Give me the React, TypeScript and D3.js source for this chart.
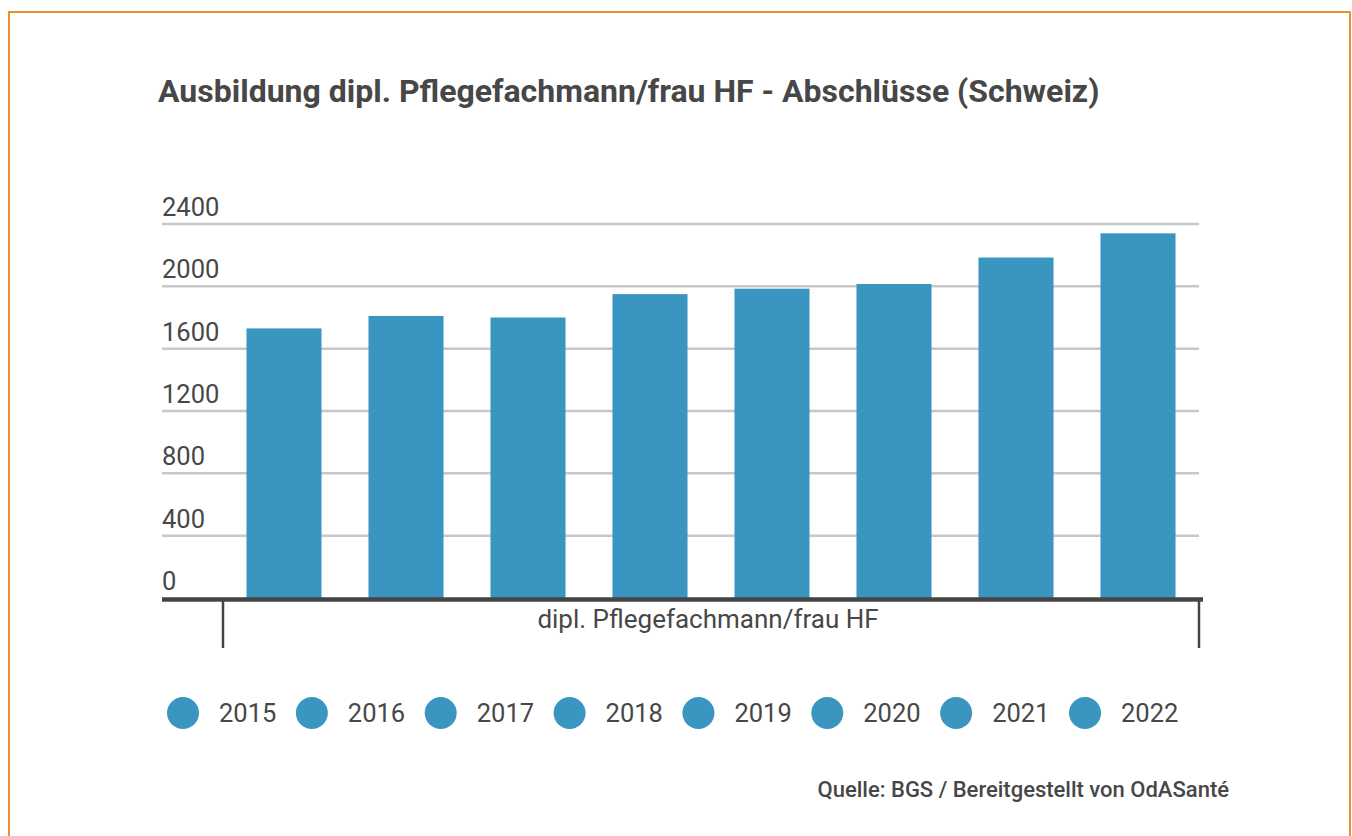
import React, { useEffect, useRef } from 'react';
import * as d3 from 'd3';

// Abschlüsse per year
const YEARS = ['2015', '2016', '2017', '2018', '2019', '2020', '2021', '2022'];
const VALUES = [1730, 1810, 1800, 1950, 1985, 2015, 2185, 2340];
const Y_TICKS = [0, 400, 800, 1200, 1600, 2000, 2400];
const CATEGORY = 'dipl. Pflegefachmann/frau HF';
const TITLE = 'Ausbildung dipl. Pflegefachmann/frau HF - Abschlüsse (Schweiz)';
const SOURCE = 'Quelle: BGS / Bereitgestellt von OdASanté';

const COLORS = {
  bar: '#3a96c0',
  text: '#474747',
  grid: '#c8c8c8',
  axis: '#444444',
  frame: '#e8912f',
};

const W = 1352;
const H = 836;

const App: React.FC = () => {
  const svgRef = useRef<SVGSVGElement>(null);

  useEffect(() => {
    if (!svgRef.current) return;
    const svg = d3.select(svgRef.current);
    svg.selectAll('*').remove();

    const font = 'Roboto, sans-serif';

    // orange frame
    svg.append('rect')
      .attr('x', 9).attr('y', 12)
      .attr('width', 1341).attr('height', 900)
      .attr('fill', 'none')
      .attr('stroke', COLORS.frame)
      .attr('stroke-width', 2);

    // title
    svg.append('text')
      .attr('x', 158).attr('y', 102)
      .text(TITLE)
      .attr('fill', COLORS.text)
      .attr('font-family', font)
      .attr('font-weight', 'bold')
      .attr('font-size', '32px');

    const plot = { left: 162, right: 1199, top: 224, bottom: 598 };

    const y = d3.scaleLinear()
      .domain([0, 2400])
      .range([plot.bottom, plot.top]);

    // outer band for the single category, inner band for the years
    const x0 = d3.scaleBand()
      .domain([CATEGORY])
      .range([223, 1199])
      .padding(0);

    const x1 = d3.scaleBand()
      .domain(YEARS)
      .range([0, x0.bandwidth()])
      .paddingInner(0.385)
      .paddingOuter(0.1925);

    // gridlines + labels
    Y_TICKS.forEach(t => {
      if (t > 0) {
        svg.append('line')
          .attr('x1', plot.left).attr('x2', plot.right)
          .attr('y1', y(t)).attr('y2', y(t))
          .attr('stroke', COLORS.grid)
          .attr('stroke-width', 2.5);
      }
      svg.append('text')
        .attr('x', plot.left)
        .attr('y', y(t) - 8)
        .text(String(t))
        .attr('fill', COLORS.text)
        .attr('font-family', font)
        .attr('font-size', '25.5px');
    });

    // bars
    const gx = x0(CATEGORY) ?? 0;
    svg.selectAll('.bar')
      .data(VALUES)
      .enter().append('rect')
      .attr('class', 'bar')
      .attr('x', (_, i) => gx + (x1(YEARS[i]) ?? 0))
      .attr('y', d => y(d))
      .attr('width', x1.bandwidth())
      .attr('height', d => y(0) - y(d))
      .attr('fill', COLORS.bar);

    // x axis line
    svg.append('line')
      .attr('x1', plot.left).attr('x2', 1203)
      .attr('y1', y(0) + 1.5).attr('y2', y(0) + 1.5)
      .attr('stroke', COLORS.axis)
      .attr('stroke-width', 4.5);

    // category boundary ticks
    [gx, gx + x0.bandwidth()].forEach(xv => {
      svg.append('line')
        .attr('x1', xv).attr('x2', xv)
        .attr('y1', y(0) + 3).attr('y2', 648)
        .attr('stroke', COLORS.axis)
        .attr('stroke-width', 2.5);
    });

    svg.append('text')
      .attr('x', gx + x0.bandwidth() / 2 - 3)
      .attr('y', 628)
      .attr('text-anchor', 'middle')
      .text(CATEGORY)
      .attr('fill', COLORS.text)
      .attr('font-family', font)
      .attr('font-size', '26px');

    // legend
    const legendX = d3.scalePoint()
      .domain(YEARS)
      .range([183, 1085]);

    const item = svg.selectAll('.legend')
      .data(YEARS)
      .enter().append('g')
      .attr('class', 'legend')
      .attr('transform', d => `translate(${legendX(d)}, 713)`);

    item.append('circle')
      .attr('r', 16)
      .attr('fill', COLORS.bar);

    item.append('text')
      .attr('x', 36).attr('y', 9)
      .text(d => d)
      .attr('fill', COLORS.text)
      .attr('font-family', font)
      .attr('font-size', '25.5px');

    // source
    svg.append('text')
      .attr('x', 1229).attr('y', 797)
      .attr('text-anchor', 'end')
      .text(SOURCE)
      .attr('fill', COLORS.text)
      .attr('font-family', font)
      .attr('font-weight', 500)
      .attr('font-size', '22px');
  }, []);

  return (
    <svg
      ref={svgRef}
      width={W}
      height={H}
      style={{ position: 'absolute', left: 0, top: 0, background: '#fff' }}
    />
  );
};

export default App;
